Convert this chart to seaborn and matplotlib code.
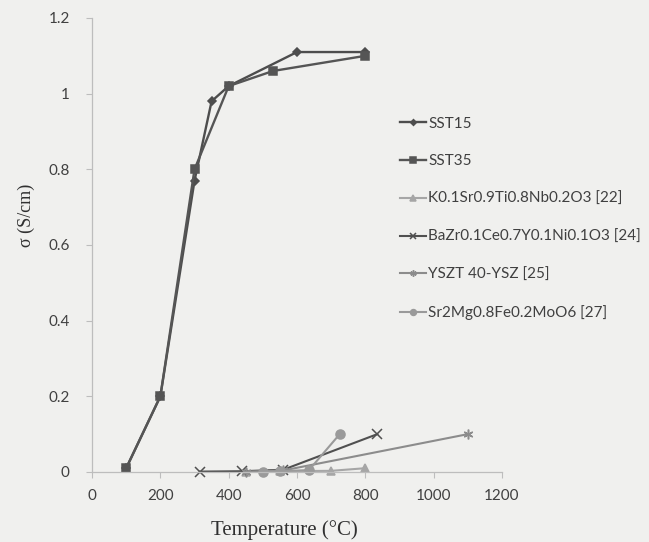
import pandas as pd
import matplotlib.pyplot as plt
import seaborn as sns

# ---- data ----
sst15_t = [100, 200, 300, 350, 400, 600, 800]
sst15_s = [0.01, 0.20, 0.77, 0.98, 1.02, 1.11, 1.11]

sst35_t = [100, 200, 300, 400, 530, 800]
sst35_s = [0.01, 0.20, 0.80, 1.02, 1.06, 1.10]

k_t = [450, 550, 700, 800]
k_s = [0.001, 0.002, 0.003, 0.01]

ba_t = [315, 440, 560, 835]
ba_s = [0.001, 0.002, 0.006, 0.10]

ysz_t = [450, 560, 1100]
ysz_s = [0.001, 0.004, 0.10]

sr_t = [500, 550, 635, 725]
sr_s = [0.001, 0.002, 0.005, 0.10]

names = ['SST15', 'SST35', 'K0.1Sr0.9Ti0.8Nb0.2O3 [22]',
         'BaZr0.1Ce0.7Y0.1Ni0.1O3 [24]', 'YSZT 40-YSZ [25]',
         'Sr2Mg0.8Fe0.2MoO6 [27]']
temps = [sst15_t, sst35_t, k_t, ba_t, ysz_t, sr_t]
sigmas = [sst15_s, sst35_s, k_s, ba_s, ysz_s, sr_s]

colors = ['#4d4d4d', '#555555', '#a6a6a6', '#505050', '#8c8c8c', '#9a9a9a']
markers = ['D', 's', '^', 'x', (6, 2, 0), 'o']
msizes = [4.5, 6, 6, 7, 7, 6.5]
lwidths = [1.7, 1.7, 1.5, 1.5, 1.5, 1.5]

#----------------------------------------------------------
bg = '#f0f0ee'
fig = plt.figure(figsize=(6.49, 5.42), dpi=100, facecolor=bg)
ax = fig.add_axes([0.1418, 0.1292, 0.6317, 0.8376], facecolor=bg)

for n, t, s, c, m, ms, lw in zip(names, temps, sigmas, colors, markers, msizes, lwidths):
  d = pd.DataFrame({'T': t, 'sigma': s})
  sns.lineplot(data=d, x='T', y='sigma', color=c, marker=m, markersize=ms,
               markeredgecolor=c, markeredgewidth=1.1, linewidth=lw,
               estimator=None, sort=False, ax=ax, label=n, clip_on=False)

ax.set_xlim(0, 1200)
ax.set_ylim(0, 1.2)
ax.set_xticks(range(0, 1201, 200))
ax.set_yticks([0, 0.2, 0.4, 0.6, 0.8, 1.0, 1.2])
ax.set_yticklabels(['0', '0.2', '0.4', '0.6', '0.8', '1', '1.2'])

tick_font = 'Lato'
for lab in ax.get_xticklabels() + ax.get_yticklabels():
  lab.set_fontfamily(tick_font)
  lab.set_fontsize(11)
  lab.set_color('#404040')

for side in ['top', 'right']:
  ax.spines[side].set_visible(False)
for side in ['left', 'bottom']:
  ax.spines[side].set_color('#bdbdbd')
  ax.spines[side].set_linewidth(0.9)
ax.tick_params(axis='both', direction='out', length=4, width=0.8, color='#bdbdbd')
ax.tick_params(axis='y', pad=12)
ax.tick_params(axis='x', pad=8)

ax.set_xlabel('Temperature (°C)', family='Liberation Serif', fontsize=15, color='#303030')
ax.set_ylabel('σ (S/cm)', family='Liberation Serif', fontsize=13, color='#303030')
ax.xaxis.set_label_coords(0.468, -0.105)
ax.yaxis.set_label_coords(-0.138, 0.566)

# legend built from the plotted lines
handles, labels = ax.get_legend_handles_labels()
ax.get_legend().remove()
leg = fig.legend(handles, labels, loc='upper left', bbox_to_anchor=(0.595, 0.810),
                 frameon=False, handlelength=1.7, handletextpad=0.15,
                 labelspacing=1.55, markerscale=0.65,
                 prop={'family': tick_font, 'size': 11})
for txt in leg.get_texts():
  txt.set_color('#404040')

plt.savefig('out.png', dpi=100, facecolor=bg)
plt.close(fig)
